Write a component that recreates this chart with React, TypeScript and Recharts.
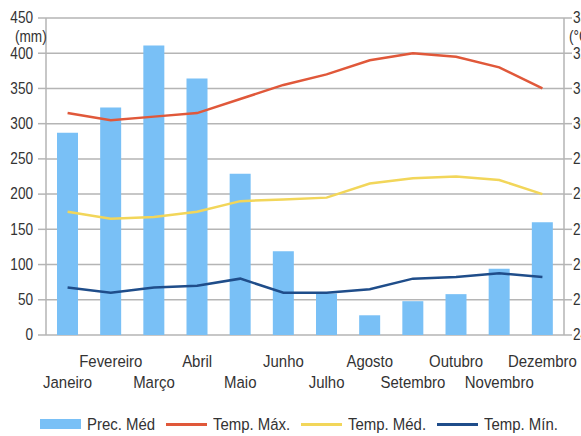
import React from 'react';
import { ComposedChart, Bar, Line, XAxis, YAxis, CartesianGrid, Legend } from 'recharts';

// Monthly climate normals: precipitation (mm) and temperatures (°C)
const months = ['Janeiro', 'Fevereiro', 'Março', 'Abril', 'Maio', 'Junho', 'Julho', 'Agosto', 'Setembro', 'Outubro', 'Novembro', 'Dezembro'];
const precMed = [287, 323, 411, 364, 229, 119, 59, 28, 48, 58, 94, 160];
const tempMax = [30.3, 30.1, 30.2, 30.3, 30.7, 31.1, 31.4, 31.8, 32.0, 31.9, 31.6, 31.0];
const tempMed = [27.5, 27.3, 27.35, 27.5, 27.8, 27.85, 27.9, 28.3, 28.45, 28.5, 28.4, 28.0];
const tempMin = [25.35, 25.2, 25.35, 25.4, 25.6, 25.2, 25.2, 25.3, 25.6, 25.65, 25.75, 25.65];

const precTicks = [0, 50, 100, 150, 200, 250, 300, 350, 400, 450];
const tempTicks = [24, 25, 26, 27, 28, 29, 30, 31, 32, 33];
const monthEdges = [0, 1, 2, 3, 4, 5, 6, 7, 8, 9, 10, 11, 12];

const data = months.map((m, i) => ({
  month: m,
  prec: precMed[i],
  max: tempMax[i],
  med: tempMed[i],
  min: tempMin[i],
}));

const FONT = '"Liberation Sans", Arial, sans-serif';
const TEXT = '#333333';
const AXIS = '#b5b5b5';
const C_PREC = '#79c0f6';
const C_MAX = '#e0583a';
const C_MED = '#f2d65a';
const C_MIN = '#1f4d8a';

// Narrow lettering: regular face squeezed horizontally
const LABEL_SIZE = 17;
const LABEL_SQUEEZE = 0.88;
const AXIS_SIZE = 16;
const AXIS_SQUEEZE = 0.85;

let measureCtx: CanvasRenderingContext2D | null = null;
const textWidth = (s: string, size: number) => {
  if (!measureCtx) measureCtx = document.createElement('canvas').getContext('2d');
  if (!measureCtx) return s.length * size * 0.5;
  measureCtx.font = `${size}px ${FONT}`;
  return measureCtx.measureText(s).width;
};

const NarrowText = (props: any) => {
  const { x, y, anchor, size, squeeze, children } = props;
  return (
    <text
      transform={`translate(${x} ${y}) scale(${squeeze} 1)`}
      x={0}
      y={0}
      textAnchor={anchor}
      dominantBaseline="central"
      fontFamily={FONT}
      fontSize={size}
      fill={TEXT}
    >
      {children}
    </text>
  );
};

// Month names alternate between two rows so they do not collide
const MonthTick = (props: any) => {
  const { x, y, payload, index } = props;
  const lower = index % 2 === 0;
  return (
    <NarrowText x={x} y={y + (lower ? 47 : 26)} anchor="middle" size={LABEL_SIZE} squeeze={LABEL_SQUEEZE}>
      {payload.value}
    </NarrowText>
  );
};

const ValueTick = (props: any) => {
  const { x, y, payload, textAnchor } = props;
  return (
    <NarrowText x={x} y={y} anchor={textAnchor} size={AXIS_SIZE} squeeze={AXIS_SQUEEZE}>
      {payload.value}
    </NarrowText>
  );
};

const UnitLabel = (props: any) => {
  const { viewBox, value, dx } = props;
  if (!viewBox) return null;
  return (
    <NarrowText x={viewBox.x + dx} y={viewBox.y + 19} anchor="start" size={AXIS_SIZE} squeeze={AXIS_SQUEEZE}>
      {value}
    </NarrowText>
  );
};

const LegendContent = (props: any) => {
  const { payload } = props;
  return (
    <div
      style={{
        display: 'flex',
        justifyContent: 'center',
        alignItems: 'center',
        height: 24,
      }}
    >
      {(payload || []).map((entry: any) => {
        const w = Math.ceil(textWidth(entry.value, LABEL_SIZE) * LABEL_SQUEEZE);
        return (
          <div key={entry.value} style={{ display: 'flex', alignItems: 'center', marginRight: 10 }}>
            {entry.type === 'rect' ? (
              <div style={{ width: 41, height: 10, background: entry.color }} />
            ) : (
              <div style={{ width: 41, height: 3, background: entry.color }} />
            )}
            <svg width={w} height={24} style={{ marginLeft: 6, display: 'block' }}>
              <NarrowText x={0} y={12} anchor="start" size={LABEL_SIZE} squeeze={LABEL_SQUEEZE}>
                {entry.value}
              </NarrowText>
            </svg>
          </div>
        );
      })}
    </div>
  );
};

export default function App() {
  return (
    <div
      style={{
        position: 'fixed',
        left: 0,
        top: 0,
        width: 581,
        height: 436,
        overflow: 'hidden',
        background: '#ffffff',
      }}
    >
      <ComposedChart
        width={600}
        height={436}
        data={data}
        margin={{ top: 18, right: 0, left: 8, bottom: 0 }}
        barCategoryGap={0}
      >
        <CartesianGrid
          yAxisId="prec"
          xAxisId="months"
          vertical={false}
          stroke={AXIS}
          strokeWidth={1.5}
        />
        <XAxis
          xAxisId="edges"
          type="number"
          domain={[0, 12]}
          ticks={monthEdges}
          allowDataOverflow
          tick={false}
          tickSize={8}
          height={0}
          stroke={AXIS}
          strokeWidth={1.5}
        />
        <XAxis
          xAxisId="months"
          dataKey="month"
          interval={0}
          axisLine={false}
          tickLine={false}
          tickSize={0}
          tickMargin={0}
          height={77}
          tick={<MonthTick />}
        />
        <YAxis
          yAxisId="prec"
          orientation="left"
          width={38}
          domain={[0, 450]}
          ticks={precTicks}
          interval={0}
          tickSize={8}
          tickMargin={5}
          stroke={AXIS}
          strokeWidth={1.5}
          tick={<ValueTick />}
          label={<UnitLabel value="(mm)" dx={7} />}
        />
        <YAxis
          yAxisId="temp"
          orientation="right"
          width={36}
          domain={[24, 33]}
          ticks={tempTicks}
          interval={0}
          tickSize={8}
          tickMargin={1}
          stroke={AXIS}
          strokeWidth={1.5}
          tick={<ValueTick />}
          label={<UnitLabel value="(°C)" dx={5} />}
        />
        <Legend verticalAlign="bottom" content={<LegendContent />} />
        <Bar
          xAxisId="months"
          yAxisId="prec"
          dataKey="prec"
          name="Prec. Méd"
          fill={C_PREC}
          barSize={21}
          legendType="rect"
          isAnimationActive={false}
        />
        <Line
          xAxisId="months"
          yAxisId="temp"
          dataKey="max"
          name="Temp. Máx."
          stroke={C_MAX}
          strokeWidth={2.5}
          dot={false}
          type="linear"
          legendType="line"
          isAnimationActive={false}
        />
        <Line
          xAxisId="months"
          yAxisId="temp"
          dataKey="med"
          name="Temp. Méd."
          stroke={C_MED}
          strokeWidth={2.5}
          dot={false}
          type="linear"
          legendType="line"
          isAnimationActive={false}
        />
        <Line
          xAxisId="months"
          yAxisId="temp"
          dataKey="min"
          name="Temp. Mín."
          stroke={C_MIN}
          strokeWidth={2.5}
          dot={false}
          type="linear"
          legendType="line"
          isAnimationActive={false}
        />
      </ComposedChart>
    </div>
  );
}
